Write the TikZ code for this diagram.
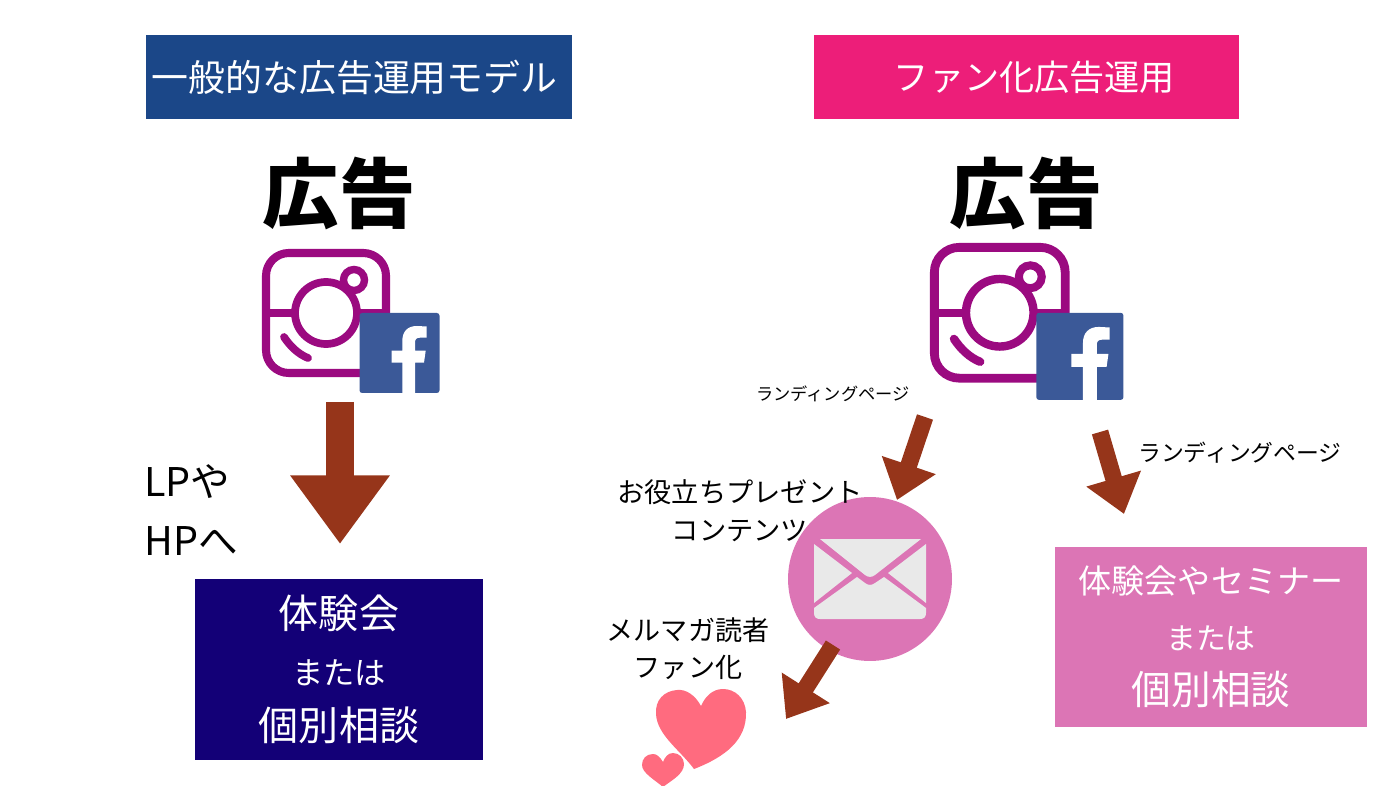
\documentclass[tikz,border=0pt]{standalone}
\usepackage{fontspec}
\setmainfont{Noto Sans CJK JP}
\usetikzlibrary{arrows.meta,positioning}
\definecolor{adblue}{HTML}{1B4788}
\definecolor{fanpink}{HTML}{ED1E79}
\definecolor{navybox}{HTML}{130077}
\definecolor{softpink}{HTML}{DC75B5}
\definecolor{igpurple}{HTML}{9B0A80}
\definecolor{fbblue}{HTML}{3B5998}
\definecolor{arrowbrown}{HTML}{96351A}
\definecolor{heartred}{HTML}{FF6B7F}
\definecolor{mailgrey}{HTML}{E9E9E9}
\newcommand{\jp}[2]{\fontsize{#1}{#2}\selectfont}
\tikzset{
  titlebox/.style={fill=#1,text=white,minimum width=8.52cm,minimum height=1.68cm,inner sep=0pt},
  bigword/.style={font=\jp{43.5}{44}\bfseries,inner sep=0pt},
  goalbox/.style={fill=#1,text=white,align=center,inner sep=0pt},
  note/.style={align=center,inner sep=0pt},
  fatarrow/.style={draw=arrowbrown,line width=#1},
  igfb/.pic={
    \draw[igpurple,line width=#1*4.6pt,rounded corners=#1*13pt] (4,4) rectangle (124,124);
    \draw[igpurple,line width=#1*4.4pt] (64,64) circle (31);
    \draw[igpurple,line width=#1*4.2pt] (92,31) circle (10.5);
    \draw[igpurple,line width=#1*4.4pt] (4,64) -- (33,64) (95,64) -- (124,64);
    \draw[igpurple,line width=#1*4.4pt,line cap=round] (22,88) .. controls (28,97) and (36,105) .. (46,109);
    \fill[fbblue,rounded corners=#1*1.5pt] (97.5,64) rectangle (177.5,144);
    \fill[white] (140.3,144) -- (140.3,113.7) -- (129.7,113.7) -- (129.7,101.7) -- (140.3,101.7) -- (140.3,92)
      .. controls (140.3,82) and (146,77) .. (155,77) -- (164.7,77.5) -- (164.7,88.7) -- (158,88.7)
      .. controls (154,88.7) and (153,90.5) .. (153,94) -- (153,101.7) -- (163.7,101.7) -- (162,113.7)
      -- (153,113.7) -- (153,144) -- cycle;
  }
}

\begin{document}
\begin{tikzpicture}[x=0.02cm,y=-0.02cm]
    \useasboundingbox (0,0) rectangle (1398,786);

    % left column
    \node[titlebox=adblue,font=\jp{21}{21}] (titleleft) at (359,77) {一般的な広告運用モデル\hspace*{5pt}};
    \node[bigword] (adleft) at (339,194) {広告};
    \pic at (262,249) {igfb=1};

    \coordinate (startleft) at (340,402);
    \coordinate (endleft) at (340,544);
    \draw[fatarrow=15.9pt,-{Triangle[width=54pt,length=39pt]}] (startleft) -- (endleft);

    \node[note,align=left,font=\jp{22.5}{34}] (lptext) at (191,510) {LPや\\HPへ};

    \node[goalbox=navybox,minimum width=5.76cm,minimum height=3.62cm,font=\jp{22.8}{32}] (goalleft) at (339,669.5)
      {体験会\\{\jp{17.8}{32}または}\\個別相談};

    % right column
    \node[titlebox=fanpink,font=\jp{20}{20}] (titleright) at (1026.5,77) {\hspace*{9pt}ファン化広告運用};
    \node[bigword] (adright) at (1026,194) {広告};
    \pic[scale=1.09] at (930,243) {igfb=1.09};

    \node[font=\jp{9.8}{10},inner sep=0pt] (lpnoteone) at (833,394) {ランディングページ};
    \node[font=\jp{13}{13},inner sep=0pt] (lpnotetwo) at (1240,453) {ランディングページ};

    % mail
    \node[circle,fill=softpink,minimum size=3.28cm,inner sep=0pt] (mail) at (870,579) {};
    \fill[mailgrey] (820,539) -- (921,539) -- (875,575) .. controls (872,577.5) and (868,577.5) .. (865,575) -- cycle;
    \fill[mailgrey] (814,544) -- (852,573) -- (814,603) -- cycle;
    \fill[mailgrey] (926,544) -- (888,573) -- (926,603) -- cycle;
    \fill[mailgrey] (814,608) -- (857,577) -- (865,583) .. controls (868,585.5) and (872,585.5) .. (875,583) -- (884,577) -- (926,608)
      -- (926,613) .. controls (926,617) and (924,619) .. (920,619) -- (820,619) .. controls (816,619) and (814,617) .. (814,613) -- cycle;

    \node[note,font=\jp{15.5}{21.5}] (gift) at (740,511) {お役立ちプレゼント\\コンテンツ};
    \node[note,font=\jp{15.4}{21.2}] (reader) at (688,648.5) {メルマガ読者\\ファン化};

    \node[goalbox=softpink,minimum width=6.24cm,minimum height=3.6cm,font=\jp{22.6}{31.5}] (goalright) at (1211,637)
      {{\jp{18.8}{31.5}体験会やセミナー}\\{\jp{17}{31.5}または}\\個別相談};

    \coordinate (startone) at (925,417);
    \coordinate (endone) at (897,500);
    \coordinate (starttwo) at (1100,432);
    \coordinate (endtwo) at (1124,514);
    \coordinate (startthree) at (833,645);
    \coordinate (endthree) at (786,719);
    \foreach \from/\to in {startone/endone,starttwo/endtwo,startthree/endthree}
    \draw[fatarrow=9.6pt,-{Triangle[width=31pt,length=21pt]}] (\from) -- (\to);

    % hearts
    \fill[heartred] (701,706) .. controls (695,695) and (686,689) .. (677,690) .. controls (664,691) and (655,700) .. (656,714)
      .. controls (657,735) and (680,750) .. (694,769) .. controls (725,757) and (747,740) .. (746,712)
      .. controls (745,698) and (735,689) .. (723,689) .. controls (712,689) and (705,697) .. (701,706);
    \fill[heartred] (663,762) .. controls (660,757) and (657,754) .. (653,754) .. controls (646,754) and (642,759) .. (642,765)
      .. controls (642,773) and (655,780) .. (663,787) .. controls (672,780) and (684,774) .. (684,764)
      .. controls (684,758) and (679,753) .. (673,753) .. controls (668,753) and (665,757) .. (663,762);
\end{tikzpicture}
\end{document}
